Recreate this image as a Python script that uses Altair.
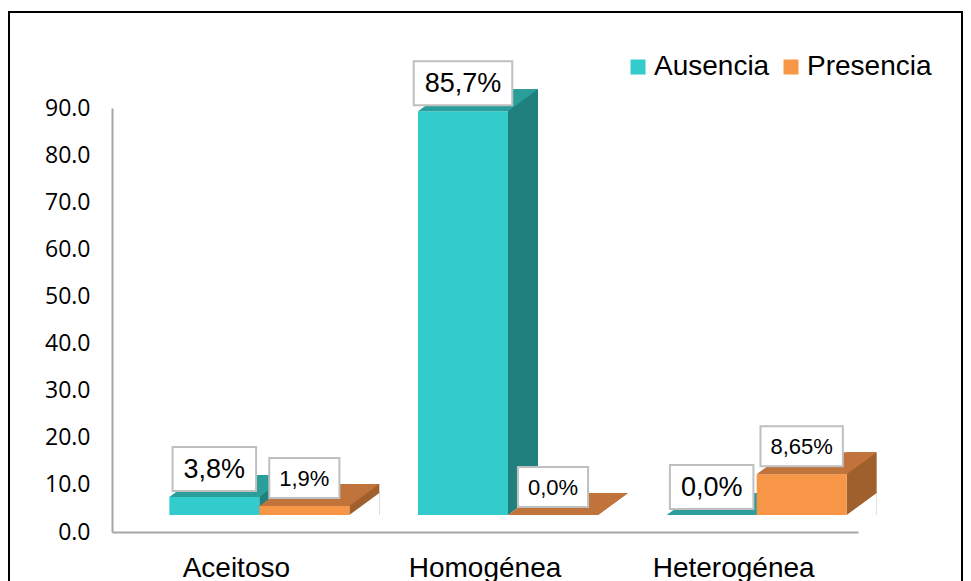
import altair as alt
import pandas as pd

# ---- data ----
categorias = ["Aceitoso", "Homogénea", "Heterogénea"]
series = ["Ausencia", "Presencia"]
ausencia = [3.8, 85.7, 0.0]
presencia = [1.9, 0.0, 8.65]
etiquetas_ausencia = ["3,8%", "85,7%", "0,0%"]
etiquetas_presencia = ["1,9%", "0,0%", "8,65%"]

# ---- styles ----
front_colors = {"Ausencia": "#33CCCC", "Presencia": "#F79646"}
top_colors = {"Ausencia": "#2A9E9B", "Presencia": "#C0733A"}
side_colors = {"Ausencia": "#1F807D", "Presencia": "#A0602D"}
label_size = {"Ausencia": 27, "Presencia": 22}
series_shift = {"Ausencia": -45, "Presencia": 45}

ARIAL = {",": 0.278, "%": 0.889, ".": 0.278}


def text_width(t, fs):
    return sum(ARIAL.get(c, 0.556) for c in t) * fs


def box_path(w, h, r=50.0):
    a = w / 2 / r
    b = h / 2 / r
    return f"M{-a:.4f},{-b:.4f}L{a:.4f},{-b:.4f}L{a:.4f},{b:.4f}L{-a:.4f},{b:.4f}Z"


rows = []
for s, vals, labs in [("Ausencia", ausencia, etiquetas_ausencia),
                      ("Presencia", presencia, etiquetas_presencia)]:
    for c, v, l in zip(categorias, vals, labs):
        rows.append({"categoria": c, "serie": s, "valor": v, "etiqueta": l,
                     "id": f"{c}-{s}"})
df = pd.DataFrame(rows)

ids = list(df["id"])
paths = []
for _, r in df.iterrows():
    fs = label_size[r["serie"]]
    w = text_width(r["etiqueta"], fs) + (22 if r["serie"] == "Ausencia" else 20)
    h = 44 if r["serie"] == "Ausencia" else 40
    paths.append(box_path(w, h))

# 3D geometry (pixels)
BW, DX, DY, FRONT_SHIFT, FLOOR = 90, 30, 22, 23, 17

para = "M-1,0.1833L0.5,0.1833L1,-0.1833L-0.5,-0.1833Z"   # top face (r=60)
tri = "M-1,0.7333L1,0.7333L1,-0.7333Z"                   # floor cut (r=15)

xaxis = alt.Axis(title=None, labelFont="Liberation Sans", labelFontSize=28,
                 labelColor="black", ticks=False, domainColor="#A6A6A6",
                 domainWidth=2, labelPadding=22, labelAngle=0)
yaxis = alt.Axis(title=None, values=list(range(0, 91, 10)), format=".1f",
                 labelFont="Open Sans", labelFontSize=23, labelColor="black",
                 ticks=False, grid=False, domainColor="#A6A6A6", domainWidth=2,
                 labelPadding=22)
yscale = alt.Scale(domain=[0, 90], nice=False)

base = alt.Chart(df).transform_calculate(cero="0").encode(
    x=alt.X("categoria:N", sort=categorias,
            scale=alt.Scale(paddingInner=0.276, paddingOuter=0.138), axis=xaxis),
)


def Yv():
    return alt.Y("valor:Q", scale=yscale, axis=yaxis)


layers = []
labels = []
for s in series:
    f = alt.datum.serie == s
    so = series_shift[s]
    side = base.mark_bar(width=DX, xOffset=so + FRONT_SHIFT + BW / 2 + DX / 2,
                         yOffset=-FLOOR - DY, y2Offset=-FLOOR,
                         color=side_colors[s]).encode(
        y=Yv(), y2="cero:Q").transform_filter(f)
    cut = base.mark_point(shape=tri, size=900, filled=True, opacity=1,
                          color="white", strokeWidth=0,
                          xOffset=so + FRONT_SHIFT + BW / 2 + DX / 2,
                          yOffset=-FLOOR - DY / 2).encode(
        y=alt.Y("cero:Q", scale=yscale, axis=yaxis)).transform_filter(f)
    front = base.mark_bar(width=BW, xOffset=so + FRONT_SHIFT, yOffset=-FLOOR,
                          y2Offset=-FLOOR).encode(
        y=Yv(), y2="cero:Q",
        color=alt.Color("serie:N",
                        scale=alt.Scale(domain=series,
                                        range=[front_colors[x] for x in series]),
                        legend=alt.Legend(orient="none", legendX=512, legendY=-55,
                                          direction="horizontal", title=None,
                                          symbolType="square", symbolSize=225,
                                          symbolStrokeWidth=0, labelFontSize=28,
                                          labelFont="Liberation Sans",
                                          labelColor="black", columnPadding=7,
                                          labelOffset=2, padding=0)),
    ).transform_filter(f)
    top = base.mark_point(shape=para, size=14400, filled=True, opacity=1,
                          color=top_colors[s], strokeWidth=0,
                          xOffset=so + FRONT_SHIFT + DX / 2,
                          yOffset=-FLOOR - DY / 2).encode(
        y=Yv()).transform_filter(f)
    layers += [side, cut, front, top]

    boxes = base.mark_point(filled=True, opacity=1, fill="white", stroke="#BFBFBF",
                            strokeWidth=2, size=10000, xOffset=so + FRONT_SHIFT,
                            yOffset=-FLOOR - 28).encode(
        y=Yv(),
        shape=alt.Shape("id:N", scale=alt.Scale(domain=ids, range=paths), legend=None),
    ).transform_filter(f)
    texts = base.mark_text(font="Liberation Sans", color="black", baseline="middle",
                           fontSize=label_size[s], xOffset=so + FRONT_SHIFT,
                           yOffset=-FLOOR - 27).encode(
        y=Yv(), text="etiqueta:N").transform_filter(f)
    labels += [boxes, texts]

border = alt.Chart(df).mark_rect(filled=False, stroke="black", strokeWidth=2).encode(
    x=alt.value(-103), x2=alt.value(850), y=alt.value(-96), y2=alt.value(500))

chart = alt.layer(*layers, *labels, border).properties(
    width=746, height=424,
    autosize=alt.AutoSizeParams(type="none"),
    padding={"left": 104, "top": 100, "right": 105, "bottom": 49},
    background="white",
).configure_view(stroke=None)

chart.save("out.html", embed_options={"renderer": "svg", "actions": False})
